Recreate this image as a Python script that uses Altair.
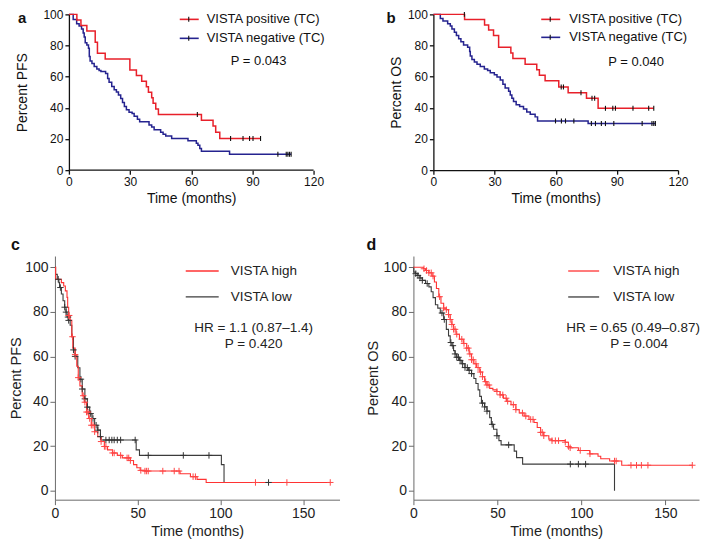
import altair as alt
import pandas as pd

FONT = "Liberation Sans"

# ---------------- Panel a : PFS by VISTA (TC) ----------------
A_POS_T = [0, 3.9, 5.9, 8.8, 12.9, 14.0, 17.8, 29.9, 33.1, 35.7, 38.0, 39.0, 40.6, 41.3, 42.6, 43.9, 65.0, 70.7, 72.0, 74.0, 94.0]
A_POS_S = [100, 96.4, 92.9, 89.3, 82.1, 75.0, 71.4, 64.3, 60.7, 57.1, 53.6, 50.0, 46.4, 42.9, 39.3, 35.7, 32.1, 28.4, 24.4, 20.3, 20.3]
A_POS_CENS = [63.0, 79.3, 85.4, 88.6, 90.3, 94.0]

A_NEG_T = [0, 2.1, 3.8, 5.0, 6.2, 7.0, 7.5, 8.0, 8.8, 9.6, 10.0, 10.4, 11.3, 12.4, 13.7, 14.8, 15.7, 18.0, 19.0, 19.7,
           21.0, 22.2, 23.3, 24.3, 25.4, 26.3, 27.2, 28.2, 29.5, 31.0, 32.0, 33.6, 34.7, 39.3, 40.6, 41.8, 45.0, 46.2,
           47.5, 50.4, 58.4, 62.5, 63.3, 64.2, 65.0, 78.8, 109.0]
A_NEG_S = [100, 96.7, 94.0, 92.6, 90.6, 88.0, 85.4, 81.8, 80.3, 78.3, 73.0, 70.0, 68.4, 66.6, 65.0, 64.0, 63.3, 62.0, 58.8, 56.4,
           53.7, 51.6, 50.2, 48.2, 46.0, 43.4, 40.8, 38.7, 37.1, 36.3, 34.6, 32.6, 31.0, 29.0, 27.7, 26.0, 24.4, 23.0,
           22.0, 20.3, 18.9, 17.2, 16.0, 13.9, 12.2, 10.2, 10.2]
A_NEG_CENS = [102.5, 106.6, 107.4, 108.2, 109.0]

# ---------------- Panel b : OS by VISTA (TC) ----------------
B_POS_T = [0, 15.3, 25.1, 27.1, 29.5, 32.0, 38.0, 39.0, 45.0, 50.7, 52.0, 54.8, 61.5, 66.1, 75.1, 80.8, 108.1]
B_POS_S = [100, 96.7, 93.2, 90.0, 86.5, 78.9, 75.2, 71.7, 68.0, 64.5, 60.9, 57.4, 53.4, 49.7, 46.2, 39.7, 39.7]
B_POS_CENS = [15.2, 62.7, 63.8, 72.4, 77.8, 79.1, 84.4, 88.0, 89.3, 97.9, 105.6, 108.1]

B_NEG_T = [0, 3.4, 4.7, 7.0, 8.3, 9.1, 10.3, 11.3, 12.4, 13.5, 14.8, 16.8, 17.8, 18.1, 18.9, 20.1, 21.4, 23.0, 25.0, 26.6,
           27.9, 29.9, 31.2, 32.8, 34.1, 35.2, 36.9, 37.7, 38.5, 39.3, 40.6, 42.3, 44.2, 45.8, 47.5, 49.9, 51.1, 75.9, 108.9]
B_NEG_S = [100, 97.3, 95.7, 94.0, 92.6, 90.6, 88.5, 86.5, 84.4, 82.4, 80.3, 78.9, 76.2, 73.2, 71.1, 69.5, 68.0, 66.6, 65.0, 64.0,
           62.5, 61.3, 59.8, 57.8, 55.1, 52.7, 50.6, 48.2, 46.1, 44.1, 42.0, 40.8, 39.3, 37.3, 35.9, 34.2, 31.6, 29.9, 29.9]
B_NEG_CENS = [59.9, 62.8, 64.8, 68.9, 77.5, 79.5, 82.4, 84.4, 88.5, 102.4, 107.2, 108.1, 108.9]

# ---------------- Panel c : PFS by VISTA high/low ----------------
C_HIGH_T = [0, 0.4, 3.9, 5.3, 6.3, 7.3, 7.7, 8.3, 9.2, 10.2, 10.8, 12.2, 13.2, 14.1, 15.1, 16.5, 17.7, 19.1, 20.4, 22.0,
            24.0, 25.9, 27.9, 29.9, 31.8, 34.8, 37.7, 40.7, 45.6, 47.5, 49.5, 51.5, 54.4, 75.6, 81.9, 85.9, 91.4, 166.4]
C_HIGH_S = [100, 94.6, 93.1, 91.6, 89.4, 86.5, 82.1, 78.4, 76.2, 68.9, 63.8, 60.9, 55.7, 50.6, 46.9, 42.5, 39.6, 35.2, 32.3, 29.3,
            26.4, 24.2, 22.0, 19.8, 18.3, 16.9, 15.8, 14.7, 13.5, 11.7, 10.3, 9.1, 8.8, 7.6, 6.3, 5.1, 3.7, 3.7]
C_HIGH_CENS = [8.3, 8.6, 10.6, 12.2, 14.1, 17.1, 18.1, 19.1, 20.0, 21.0, 22.0, 23.0, 24.0, 27.9, 29.9, 30.8, 34.8, 35.8,
               39.7, 43.6, 44.6, 45.6, 51.9, 54.4, 55.4, 56.4, 65.2, 72.1, 75.0, 83.5, 84.9, 121.2, 140.2, 166.4]

C_LOW_T = [0, 0.4, 1.4, 2.4, 2.8, 3.9, 4.9, 5.9, 6.7, 7.3, 8.3, 9.2, 10.2, 11.2, 12.2, 13.8, 15.1, 16.5, 18.1, 19.6,
           21.0, 22.4, 24.0, 25.9, 27.5, 27.9, 49.1, 51.1, 100.6, 102.2, 129.1]
C_LOW_S = [100, 96.8, 94.6, 93.1, 90.9, 88.0, 85.0, 82.1, 79.9, 77.7, 76.2, 74.0, 68.9, 63.0, 60.1, 55.0, 49.9, 45.5, 41.1, 37.4,
           34.5, 32.3, 29.3, 27.1, 24.2, 22.7, 18.3, 15.8, 11.7, 3.7, 3.7]
C_LOW_CENS = [2.0, 3.3, 5.9, 6.7, 7.9, 8.3, 11.2, 12.2, 15.7, 16.5, 18.1, 19.6, 21.6, 23.0, 24.9, 25.9, 27.5, 30.8, 32.8,
              34.4, 35.8, 37.7, 39.7, 48.5, 56.4, 77.6, 93.1, 129.1]

# ---------------- Panel d : OS by VISTA high/low ----------------
D_HIGH_T = [0, 5.9, 7.2, 9.2, 11.1, 12.5, 13.7, 15.1, 16.4, 18.0, 19.6, 20.9, 21.9, 22.9, 23.9, 25.4, 27.4, 29.7, 31.7, 33.2,
            34.6, 36.0, 37.6, 39.5, 41.1, 42.4, 43.8, 45.4, 47.3, 49.7, 51.6, 53.6, 55.5, 58.1, 61.0, 63.0, 65.9, 68.8, 71.8, 73.7,
            75.7, 77.6, 80.6, 82.5, 90.4, 92.3, 93.3, 98.2, 105.0, 109.9, 111.5, 116.8, 124.0, 166.0]
D_HIGH_S = [100, 99.3, 98.5, 97.5, 96.0, 93.4, 90.5, 86.8, 83.9, 81.7, 81.0, 78.8, 76.6, 74.4, 72.2, 70.0, 67.8, 65.9, 63.8, 61.2,
            58.6, 56.8, 55.1, 53.1, 51.0, 48.8, 47.3, 45.8, 45.1, 44.4, 42.9, 41.4, 40.0, 38.5, 36.3, 34.8, 33.4, 31.9, 30.5, 28.3,
            26.1, 24.6, 23.1, 22.4, 21.7, 19.8, 19.2, 18.0, 16.5, 15.4, 14.3, 13.3, 11.4, 11.4]
D_HIGH_CENS = [6.3, 7.8, 9.2, 10.6, 11.7, 15.6, 18.0, 19.6, 20.9, 21.9, 22.9, 23.9, 24.8, 25.8, 28.8, 30.1, 31.7, 32.7, 33.6,
               34.6, 35.6, 37.2, 38.5, 39.9, 41.1, 43.0, 43.8, 45.0, 49.7, 51.6, 53.2, 55.2, 56.1, 59.5, 61.0, 64.9, 66.9, 69.8,
               71.2, 75.7, 76.7, 77.6, 82.5, 84.5, 86.4, 90.4, 92.3, 93.3, 99.3, 105.1, 119.7, 120.7, 129.5, 132.8, 135.7,
               139.6, 166.0]

D_LOW_T = [0, 0.2, 1.4, 2.7, 3.9, 5.3, 7.2, 9.2, 10.6, 11.7, 13.1, 14.5, 16.0, 18.0, 19.6, 20.9, 21.9, 22.9, 23.9, 24.8,
           25.8, 27.4, 28.8, 30.7, 32.7, 34.6, 36.0, 37.2, 38.5, 39.5, 40.5, 42.4, 43.8, 45.4, 46.4, 47.7, 49.7, 50.9, 52.2, 60.0,
           61.4, 65.0, 119.7]
D_LOW_S = [100, 97.8, 97.1, 96.3, 95.2, 94.1, 92.7, 91.2, 89.0, 86.4, 83.2, 81.7, 79.5, 76.6, 72.2, 69.3, 66.3, 64.9, 62.7, 61.2,
           59.7, 58.3, 56.8, 55.1, 53.9, 52.4, 50.2, 48.0, 45.1, 42.2, 39.2, 37.5, 35.6, 32.7, 29.7, 27.5, 24.6, 22.4, 20.5, 17.7,
           14.8, 11.9, 0]
D_LOW_CENS = [1.4, 2.7, 3.9, 5.3, 8.2, 17.0, 18.4, 22.3, 23.5, 24.8, 25.8, 26.8, 27.8, 29.3, 30.7, 32.1, 33.2, 34.6, 41.1,
              42.4, 43.8, 46.9, 49.7, 56.7, 93.4, 98.2, 102.5]

# ---------------- styling ----------------
RED_TC = "#e8202a"
BLUE_TC = "#25238f"
RED_HL = "#ff3333"
GRAY_HL = "#3c3c3c"
TICK_PATH = "M0,-1L0,1"
PLUS_PATH = "M-1,0L1,0M0,-1L0,1"


def level_at(ts, ss, cens):
    out = []
    for c in cens:
        v = ss[0]
        for t, s in zip(ts, ss):
            if t <= c + 1e-9:
                v = s
        out.append(v)
    return out


def one():
    return pd.DataFrame({"k": [0]})


def txt(x, y, s, size=13, align="left", color="#111", weight="normal", baseline="middle"):
    return alt.Chart(one()).mark_text(
        align=align, baseline=baseline, font=FONT, fontSize=size, color=color, fontWeight=weight
    ).encode(x=alt.value(x), y=alt.value(y), text=alt.value(s))


def hrule(x1, x2, y, color, width):
    return alt.Chart(one()).mark_rule(color=color, strokeWidth=width).encode(
        x=alt.value(x1), x2=alt.value(x2), y=alt.value(y))


def vrule(x, y1, y2, color, width):
    return alt.Chart(one()).mark_rule(color=color, strokeWidth=width).encode(
        x=alt.value(x), y=alt.value(y1), y2=alt.value(y2))


def panel(curves, censors, xdom, xvals, ydom, ytitle, w, h, style, ytitle_pad, extras, xoff=0):
    """xoff: extra pixels of plot area kept left of the y axis (axis moved inward)."""
    if style == "tc":
        ac, aw, ts, lfs, tfs, lc = "#111", 1.3, 4, 12, 14, "#111"
    else:
        ac, aw, ts, lfs, tfs, lc = "#6a6a6a", 1.0, 5, 14, 14.5, "#222"
    pxpm = w / (xdom[1] - xdom[0])
    full_dom = [xdom[0] - xoff / pxpm, xdom[1]]
    xax = alt.Axis(values=xvals, title="Time (months)", grid=False, domain=(xoff == 0), domainColor=ac,
                   domainWidth=aw, tickColor=ac, tickWidth=aw, tickSize=ts, labelFont=FONT,
                   labelFontSize=lfs, labelColor=lc, labelPadding=2, labelFlush=False,
                   labelOverlap=False, titleFont=FONT, titleFontSize=tfs, titleFontWeight="normal",
                   titleColor=lc, titlePadding=4, titleX=xoff + w / 2)
    yax = alt.Axis(values=[0, 20, 40, 60, 80, 100], title=ytitle, grid=False, domainColor=ac,
                   domainWidth=aw, tickColor=ac, tickWidth=aw, tickSize=ts, labelFont=FONT,
                   labelFontSize=lfs, labelColor=lc, labelPadding=2, labelFlush=False,
                   labelOverlap=False, titleFont=FONT, titleFontSize=tfs, titleFontWeight="normal",
                   titleColor=lc, titlePadding=ytitle_pad, offset=-xoff)
    xs = alt.Scale(domain=full_dom, nice=False, zero=False)
    ys = alt.Scale(domain=ydom, nice=False, zero=False)
    X = alt.X("t:Q", scale=xs, axis=xax)
    Y = alt.Y("s:Q", scale=ys, axis=yax)
    layers = []
    if xoff:
        layers.append(alt.Chart(one()).mark_rule(color=ac, strokeWidth=aw).encode(
            x=alt.X(datum=xdom[0], scale=xs, axis=xax), x2=alt.datum(xdom[1]), y=alt.value(h)))
    for tt, ss, color, lw in curves:
        df = pd.DataFrame({"t": tt, "s": ss})
        layers.append(alt.Chart(df).mark_line(interpolate="step-after", color=color, strokeWidth=lw).encode(x=X, y=Y))
    for ct, tt, ss, color, shape, size, sw in censors:
        df = pd.DataFrame({"t": ct, "s": level_at(tt, ss, ct)})
        layers.append(alt.Chart(df).mark_point(shape=shape, size=size, filled=False, color=color,
                                               strokeWidth=sw, opacity=1).encode(x=X, y=Y))
    layers.extend(extras)
    return alt.layer(*layers).properties(width=w + xoff, height=h)


# panel a (its plot area extends AO px left of the axis so that panel c can sit further left)
W1, H1 = 245, 156
AO = 14
pa = panel(
    [(A_NEG_T, A_NEG_S, BLUE_TC, 1.5), (A_POS_T, A_POS_S, RED_TC, 1.5)],
    [(A_NEG_CENS, A_NEG_T, A_NEG_S, "#111", TICK_PATH, 25, 1.1),
     (A_POS_CENS, A_POS_T, A_POS_S, "#111", TICK_PATH, 25, 1.1)],
    [0, 120], [0, 30, 60, 90, 120], [0, 100], "Percent PFS", W1, H1, "tc", 13,
    [hrule(AO + 111, AO + 130, 5, RED_TC, 1.6), vrule(AO + 120, 2.5, 7.5, "#111", 1.1),
     hrule(AO + 111, AO + 130, 24, BLUE_TC, 1.6), vrule(AO + 120, 21.5, 26.5, "#111", 1.1),
     txt(AO + 138, 5, "VISTA positive (TC)"), txt(AO + 138, 24, "VISTA negative (TC)"),
     txt(AO + 190, 47, "P = 0.043", align="center"),
     txt(AO - 51, -3, "a", size=15, weight="bold", baseline="top")],
    xoff=AO
)

# panel b
pb = panel(
    [(B_NEG_T, B_NEG_S, BLUE_TC, 1.5), (B_POS_T, B_POS_S, RED_TC, 1.5)],
    [(B_NEG_CENS, B_NEG_T, B_NEG_S, "#111", TICK_PATH, 25, 1.1),
     (B_POS_CENS, B_POS_T, B_POS_S, "#111", TICK_PATH, 25, 1.1)],
    [0, 120], [0, 30, 60, 90, 120], [0, 100], "Percent OS", W1, H1, "tc", 4,
    [hrule(108, 127, 5, RED_TC, 1.6), vrule(117, 2.5, 7.5, "#111", 1.1),
     hrule(108, 127, 23, BLUE_TC, 1.6), vrule(117, 20.5, 25.5, "#111", 1.1),
     txt(136, 5, "VISTA positive (TC)"), txt(136, 23, "VISTA negative (TC)"),
     txt(203, 48, "P = 0.040", align="center"),
     txt(-47, -3, "b", size=15, weight="bold", baseline="top")]
)

# panel c
W3, W4, H2 = 285, 286, 244
pc = panel(
    [(C_LOW_T, C_LOW_S, GRAY_HL, 1.1), (C_HIGH_T, C_HIGH_S, RED_HL, 1.1)],
    [(C_LOW_CENS, C_LOW_T, C_LOW_S, "#333333", PLUS_PATH, 42, 1.0),
     (C_HIGH_CENS, C_HIGH_T, C_HIGH_S, "#ff4545", PLUS_PATH, 42, 1.0)],
    [0, 172], [0, 50, 100, 150], [-4, 105], "Percent PFS", W3, H2, "hl", 1,
    [hrule(131, 164, 15, RED_HL, 1.3), hrule(131, 164, 41, GRAY_HL, 1.3),
     txt(176, 15, "VISTA high", size=13.5, color="#222"),
     txt(176, 41, "VISTA low", size=13.5, color="#222"),
     txt(199, 72, "HR = 1.1 (0.87\u20131.4)", size=13.5, align="center", color="#222"),
     txt(199, 88, "P = 0.420", size=13.5, align="center", color="#222"),
     txt(-44, -19, "c", size=16, weight="bold", baseline="top")]
)

# panel d
pd_ = panel(
    [(D_LOW_T, D_LOW_S, GRAY_HL, 1.1), (D_HIGH_T, D_HIGH_S, RED_HL, 1.1)],
    [(D_LOW_CENS, D_LOW_T, D_LOW_S, "#333333", PLUS_PATH, 42, 1.0),
     (D_HIGH_CENS, D_HIGH_T, D_HIGH_S, "#ff4545", PLUS_PATH, 42, 1.0)],
    [0, 170], [0, 50, 100, 150], [-4, 105], "Percent OS", W4, H2, "hl", 3,
    [hrule(155, 186, 15, RED_HL, 1.3), hrule(155, 186, 41, GRAY_HL, 1.3),
     txt(200, 15, "VISTA high", size=13.5, color="#222"),
     txt(200, 41, "VISTA low", size=13.5, color="#222"),
     txt(220, 72, "HR = 0.65 (0.49\u20130.87)", size=13.5, align="center", color="#222"),
     txt(226, 88, "P = 0.004", size=13.5, align="center", color="#222"),
     txt(-47, -19, "d", size=16, weight="bold", baseline="top")]
)

top = alt.hconcat(pa, pb, spacing=61)
bottom = alt.hconcat(pc, pd_, spacing=25)
chart = alt.vconcat(top, bottom, spacing=32).properties(padding=0).configure_view(strokeWidth=0)

chart.save("out.html", embed_options={"renderer": "svg", "actions": False})
